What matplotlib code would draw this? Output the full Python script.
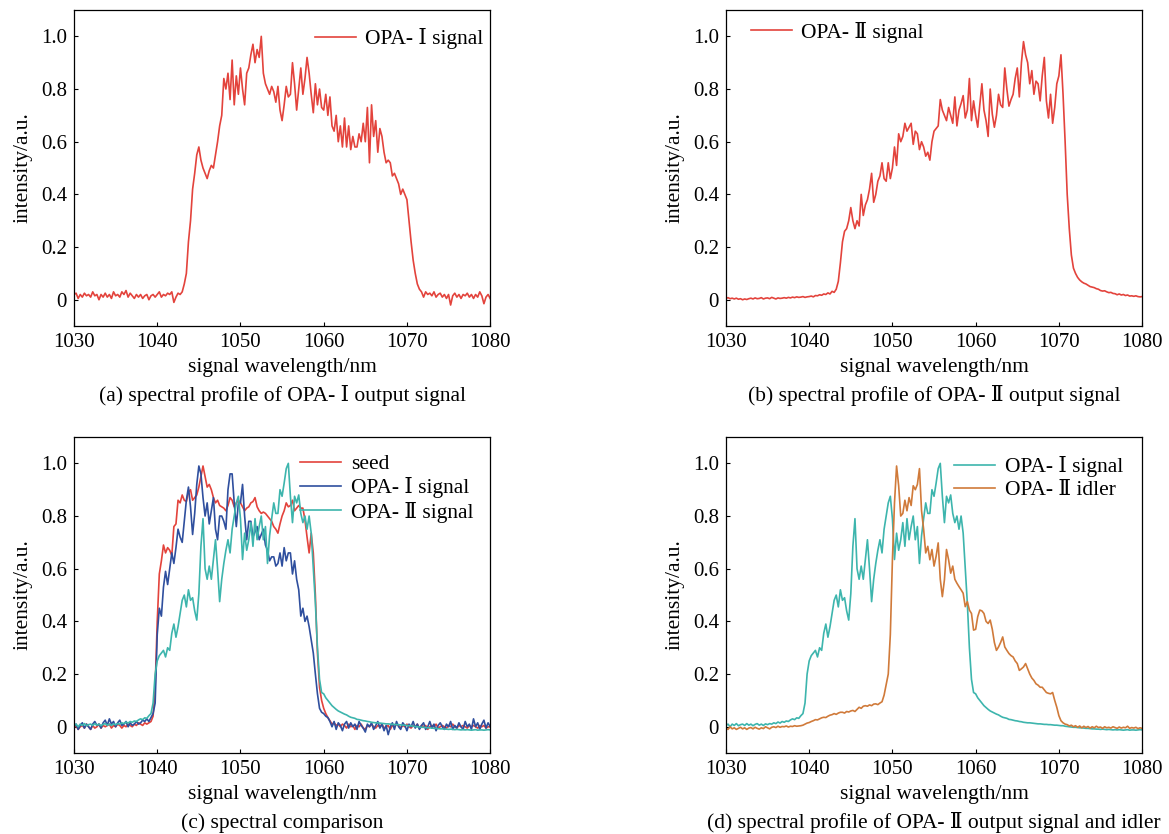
import numpy as np
import matplotlib
matplotlib.use("Agg")
import matplotlib.pyplot as plt
from matplotlib.ticker import FuncFormatter

plt.rcParams['font.family'] = ['Liberation Serif', 'DejaVu Serif', 'Noto Sans CJK SC']
plt.rcParams['font.size'] = 15.5

# wavelength grid, 0.25 nm
wl = np.arange(1030, 1080.001, 0.25)

# (a) OPA-I output signal
opa1_a = [
    0.02, 0.025, 0.005, 0.02, 0.01, 0.025, 0.015, 0.02, 0.01, 0.03, 0.015, 0.02,
    0.0, 0.02, 0.01, 0.025, 0.01, 0.02, 0.005, 0.03, 0.015, 0.02, 0.01, 0.03,
    0.02, 0.035, 0.01, 0.025, 0.015, 0.005, 0.02, 0.01, 0.02, 0.005, 0.015, 0.02,
    0.0, 0.015, 0.02, 0.01, 0.02, 0.03, 0.01, 0.02, 0.015, 0.025, 0.02, 0.03,
    -0.01, 0.01, 0.025, 0.02,
    0.03, 0.06, 0.1, 0.22, 0.3, 0.42, 0.48, 0.55, 0.58, 0.53, 0.5, 0.48,
    0.46, 0.49, 0.51, 0.5, 0.55, 0.6, 0.66, 0.7, 0.84, 0.8, 0.86, 0.76,
    0.91, 0.74, 0.85, 0.78, 0.88, 0.8, 0.74, 0.86, 0.88, 0.93, 0.97, 0.9,
    0.95, 0.92, 1.0, 0.86, 0.82, 0.8, 0.78, 0.81, 0.79, 0.75, 0.81, 0.72,
    0.68, 0.74, 0.81, 0.77, 0.78, 0.9, 0.82, 0.72, 0.8, 0.88, 0.78, 0.84,
    0.92, 0.86, 0.78, 0.71, 0.82, 0.74, 0.8, 0.73, 0.72, 0.78, 0.7, 0.77,
    0.66, 0.64, 0.7, 0.6, 0.66, 0.58, 0.69, 0.58, 0.66, 0.57, 0.62, 0.58,
    0.58, 0.63, 0.6, 0.67, 0.6, 0.73, 0.52, 0.74, 0.62, 0.68, 0.56, 0.65,
    0.62, 0.56, 0.52, 0.53, 0.52, 0.47, 0.48, 0.46, 0.44, 0.4, 0.42, 0.4,
    0.38, 0.3, 0.22, 0.15, 0.1, 0.06, 0.04, 0.03, 0.01, 0.03, 0.02, 0.025,
    0.015, 0.03, 0.01, 0.02, 0.025, 0.01, 0.02, 0.005, 0.02, -0.02, 0.015, 0.025,
    0.01, 0.02, 0.005, 0.02, 0.015, 0.025, 0.01, 0.02, 0.005, 0.02, 0.01, 0.03,
    0.015, -0.015, 0.01, 0.02, 0.005,
]

# (b) OPA-II output signal
opa2_b = [
    0.005, 0.008, 0.004, 0.006, 0.003, 0.006, 0.002, 0.004, 0.0, 0.003, 0.001, 0.004,
    0.006, 0.003, 0.007, 0.004, 0.005, 0.008, 0.003, 0.006, 0.007, 0.004, 0.009, 0.006,
    0.003, 0.007, 0.005, 0.006, 0.008, 0.006, 0.009, 0.007, 0.01, 0.008, 0.011, 0.009,
    0.01, 0.012, 0.009, 0.011,
    0.012, 0.014, 0.011, 0.016, 0.015, 0.019, 0.017, 0.022, 0.02, 0.026, 0.022, 0.032,
    0.028, 0.04, 0.07, 0.14, 0.22, 0.26, 0.27, 0.3, 0.35, 0.3, 0.27, 0.3,
    0.28, 0.4, 0.32, 0.36, 0.38, 0.42, 0.48, 0.37, 0.4, 0.45, 0.47, 0.52,
    0.46, 0.45, 0.52, 0.46, 0.5, 0.58, 0.51, 0.63, 0.6, 0.62, 0.67, 0.64,
    0.655, 0.67, 0.59, 0.64, 0.63, 0.57, 0.6, 0.58, 0.545, 0.56, 0.53, 0.6,
    0.64, 0.65, 0.66, 0.76, 0.72, 0.7, 0.68, 0.73, 0.7, 0.67, 0.77, 0.66,
    0.72, 0.745, 0.775, 0.69, 0.72, 0.84, 0.68, 0.755, 0.7, 0.655, 0.74, 0.82,
    0.72, 0.68, 0.62, 0.8, 0.705, 0.655, 0.7, 0.78, 0.74, 0.73, 0.88, 0.8,
    0.735, 0.76, 0.78, 0.84, 0.88, 0.77, 0.9, 0.98, 0.93, 0.9, 0.82, 0.87,
    0.78, 0.83, 0.82, 0.755, 0.85, 0.92, 0.755, 0.69, 0.78, 0.67, 0.73, 0.82,
    0.85, 0.93, 0.78, 0.6, 0.4, 0.27, 0.17, 0.12, 0.1, 0.085, 0.075, 0.068,
    0.063, 0.06, 0.055, 0.05, 0.048, 0.046, 0.042, 0.04, 0.035, 0.033, 0.034, 0.03,
    0.027, 0.028, 0.024, 0.023, 0.019, 0.022, 0.018, 0.02, 0.016, 0.018, 0.014, 0.015,
    0.013, 0.015, 0.012, 0.011, 0.012,
]

# (c) seed
seed_c = [
    -0.005, 0.005, -0.01, 0.0, 0.005, -0.005, 0.01, 0.0, -0.01, 0.005, -0.005, 0.0,
    0.01, -0.005, 0.005, 0.0, 0.005, 0.01, -0.005, 0.005, 0.0, 0.01, 0.005, -0.005,
    0.005, 0.0, 0.01, 0.005, 0.0, 0.01, 0.005, 0.015, 0.01, 0.005, 0.015, 0.01,
    0.015, 0.02, 0.04, 0.15, 0.4, 0.58, 0.63, 0.69, 0.66, 0.68, 0.67, 0.65,
    0.76, 0.77, 0.86, 0.85, 0.88, 0.86, 0.855, 0.89, 0.9, 0.86, 0.87, 0.88,
    0.91, 0.95, 0.99, 0.95, 0.91, 0.92, 0.9, 0.87, 0.85, 0.86, 0.84, 0.835,
    0.83, 0.82, 0.84, 0.87, 0.86, 0.835, 0.85, 0.86, 0.85, 0.835, 0.82, 0.83,
    0.835, 0.85, 0.855, 0.87, 0.835, 0.82, 0.81, 0.815, 0.81, 0.8, 0.79, 0.78,
    0.76, 0.75, 0.735, 0.77, 0.8, 0.82, 0.85, 0.835, 0.84, 0.86, 0.82, 0.83,
    0.84, 0.83, 0.83, 0.785, 0.72, 0.66, 0.735, 0.66, 0.5, 0.28, 0.15, 0.1,
    0.07, 0.05, 0.035, 0.023, 0.01, 0.015, 0.005, 0.01, 0.0, 0.01, 0.005, -0.005,
    0.01, 0.0, 0.005, -0.01, 0.005, 0.0, 0.01, -0.005, -0.01, 0.005, 0.0, 0.01,
    0.0, -0.005, 0.005, 0.0, 0.01, -0.005, 0.0, 0.005, -0.01, 0.005, 0.0, 0.01,
    0.005, -0.005, 0.005, 0.0, 0.01, 0.0, -0.005, 0.005, 0.0, 0.01, -0.005, 0.005,
    0.0, 0.005, -0.01, 0.0, 0.005, 0.0, 0.01, -0.005, 0.0, 0.005, 0.0, -0.005,
    0.005, 0.0, 0.01, 0.0, -0.005, 0.005, 0.0, 0.005, 0.0, -0.005, 0.005, 0.0,
    0.005, 0.0, -0.005, 0.005, 0.0, 0.005, -0.005, 0.0, 0.0,
]

# (c) OPA-I signal
opa1_c = [
    0.0, 0.01, -0.01, 0.005, 0.015, -0.005, 0.01, 0.0, -0.01, 0.01, 0.02, 0.005,
    0.01, -0.005, 0.015, 0.025, 0.005, 0.03, 0.01, 0.02, 0.0, 0.015, 0.025, 0.005,
    0.01, 0.02, 0.0, 0.015, 0.005, 0.01, 0.02, 0.01, 0.015, 0.025, 0.02, 0.03,
    0.02, 0.035, 0.05, 0.09, 0.35, 0.45, 0.42, 0.53, 0.59, 0.54, 0.6, 0.66,
    0.62, 0.68, 0.75, 0.72, 0.7, 0.78, 0.86, 0.91, 0.835, 0.73, 0.81, 0.92,
    0.99, 0.96, 0.87, 0.8, 0.85, 0.77, 0.82, 0.87, 0.75, 0.71, 0.8, 0.8,
    0.78, 0.75, 0.9, 0.96, 0.96, 0.85, 0.76, 0.85, 0.85, 0.92, 0.8, 0.71,
    0.78, 0.78, 0.72, 0.74, 0.76, 0.71, 0.73, 0.75, 0.69, 0.67, 0.63, 0.645,
    0.645, 0.61, 0.62, 0.66, 0.61, 0.68, 0.63, 0.66, 0.66, 0.58, 0.63, 0.56,
    0.52, 0.42, 0.45, 0.4, 0.42, 0.38, 0.33, 0.28, 0.2, 0.125, 0.07, 0.055,
    0.05, 0.04, 0.035, 0.02, 0.0, 0.02, -0.01, 0.015, 0.005, -0.015, 0.01, 0.02,
    -0.005, 0.015, 0.0, 0.01, -0.01, 0.02, 0.005, -0.005, -0.02, 0.01, 0.0, 0.015,
    -0.01, 0.005, 0.02, -0.005, 0.01, -0.015, 0.005, -0.03, 0.0, 0.015, -0.01, 0.02,
    0.0, -0.01, 0.015, 0.005, -0.015, 0.01, 0.0, 0.02, -0.005, 0.01, -0.01, 0.005,
    0.015, -0.01, 0.0, 0.02, -0.005, 0.01, -0.015, 0.005, 0.015, 0.0, -0.01, 0.01,
    0.0, 0.02, -0.01, 0.005, -0.005, 0.015, 0.0, -0.01, 0.02, 0.0, 0.01, -0.01,
    0.03, 0.0, 0.015, -0.01, 0.01, 0.025, -0.005, 0.015, 0.0,
]

# (c) OPA-II signal / (d) signal
opa2_sig = [
    0.005, 0.01, 0.0, 0.01, 0.005, 0.012, 0.004, 0.008, 0.01, 0.005, 0.012, 0.006,
    0.01, 0.004, 0.009, 0.012, 0.006, 0.01, 0.005, 0.011, 0.008, 0.012, 0.01, 0.015,
    0.012, 0.018, 0.014, 0.02, 0.017, 0.022, 0.02, 0.026, 0.03, 0.027, 0.034, 0.032,
    0.042, 0.05, 0.09, 0.2, 0.25, 0.27, 0.28, 0.29, 0.265, 0.3, 0.29, 0.355,
    0.39, 0.34, 0.38, 0.43, 0.48, 0.5, 0.455, 0.52, 0.48, 0.49, 0.44, 0.405,
    0.505, 0.685, 0.79, 0.6, 0.56, 0.61, 0.56, 0.635, 0.71, 0.6, 0.475, 0.56,
    0.62, 0.67, 0.71, 0.66, 0.75, 0.8, 0.85, 0.875, 0.79, 0.635, 0.735, 0.67,
    0.71, 0.775, 0.685, 0.79, 0.71, 0.76, 0.8, 0.71, 0.76, 0.62, 0.725, 0.79,
    0.85, 0.81, 0.81, 0.9, 0.875, 0.925, 0.98, 1.0, 0.875, 0.775, 0.875, 0.85,
    0.88, 0.81, 0.775, 0.8, 0.75, 0.8, 0.735, 0.6, 0.47, 0.3, 0.18, 0.13,
    0.125, 0.11, 0.1, 0.09, 0.08, 0.073, 0.066, 0.06, 0.056, 0.052, 0.048, 0.045,
    0.04, 0.036, 0.034, 0.032, 0.028, 0.027, 0.025, 0.023, 0.022, 0.02, 0.019, 0.017,
    0.016, 0.015, 0.015, 0.014, 0.013, 0.012, 0.011, 0.011, 0.01, 0.009, 0.009, 0.008,
    0.008, 0.007, 0.006, 0.006, 0.005, 0.004, 0.004, 0.002, 0.001, 0.0, -0.001, -0.002,
    -0.002, -0.003, -0.004, -0.004, -0.005, -0.006, -0.006, -0.007, -0.008, -0.008, -0.009, -0.009,
    -0.01, -0.009, -0.01, -0.011, -0.01, -0.011, -0.012, -0.011, -0.012, -0.011, -0.012, -0.013,
    -0.012, -0.011, -0.013, -0.012, -0.012, -0.013, -0.012, -0.011, -0.012,
]

# (d) OPA-II idler
opa2_idl = [
    -0.005, -0.01, 0.0, -0.008, -0.004, -0.01, -0.006, -0.002, -0.008, -0.004, -0.01, -0.005,
    -0.003, -0.008, -0.002, -0.006, -0.009, -0.004, -0.007, 0.0, -0.004, -0.008, -0.002, 0.0,
    -0.003, 0.002, -0.002, 0.001, 0.0, 0.003, -0.001, 0.002, 0.001, 0.004, 0.002, 0.003,
    0.004, 0.006, 0.01, 0.014, 0.016, 0.02, 0.023, 0.027, 0.026, 0.03, 0.034, 0.036,
    0.035, 0.04, 0.044, 0.046, 0.05, 0.047, 0.052, 0.055, 0.055, 0.052, 0.058, 0.056,
    0.06, 0.062, 0.058, 0.066, 0.074, 0.07, 0.078, 0.08, 0.078, 0.083, 0.08, 0.086,
    0.087, 0.084, 0.09, 0.095, 0.12, 0.16, 0.2, 0.35, 0.634, 0.85, 0.99, 0.915,
    0.8, 0.81, 0.86, 0.82, 0.87, 0.84, 0.915, 0.9, 0.92, 0.98, 0.82, 0.75,
    0.66, 0.685, 0.634, 0.673, 0.61, 0.647, 0.698, 0.56, 0.494, 0.558, 0.673, 0.634,
    0.583, 0.61, 0.56, 0.545, 0.532, 0.52, 0.507, 0.456, 0.475, 0.443, 0.43, 0.367,
    0.37, 0.418, 0.443, 0.44, 0.43, 0.4, 0.392, 0.405, 0.37, 0.32, 0.29, 0.303,
    0.32, 0.341, 0.303, 0.29, 0.278, 0.27, 0.265, 0.25, 0.24, 0.214, 0.22, 0.227,
    0.24, 0.22, 0.2, 0.185, 0.176, 0.163, 0.158, 0.15, 0.15, 0.14, 0.13, 0.127,
    0.125, 0.13, 0.1, 0.074, 0.042, 0.023, 0.015, 0.01, 0.008, 0.003, 0.006, 0.0,
    0.004, -0.002, 0.003, -0.004, 0.002, -0.003, 0.001, -0.005, 0.0, -0.004, 0.002, -0.003,
    -0.001, -0.006, 0.0, -0.004, -0.002, -0.005, 0.0, -0.003, -0.006, -0.001, -0.005, -0.002,
    -0.004, 0.002, -0.006, -0.003, -0.005, -0.002, -0.007, -0.004, -0.006,
]

red = '#e3433c'
blue = '#2f4f9e'
cyan = '#3db5ad'
orange = '#d07a3a'

captions = [
    '(a) spectral profile of OPA- \u2160 output signal',
    '(b) spectral profile of OPA- \u2161 output signal',
    '(c) spectral comparison',
    '(d) spectral profile of OPA- \u2161 output signal and idler',
]

fig = plt.figure(figsize=(11.69, 8.34), dpi=100)
boxes = [
    [0.0633, 0.609, 0.356, 0.379],
    [0.6210, 0.609, 0.356, 0.379],
    [0.0633, 0.097, 0.356, 0.379],
    [0.6210, 0.097, 0.356, 0.379],
]
axes = [fig.add_axes(b) for b in boxes]


def yfmt(v, pos):
    if abs(v) < 1e-9:
        return '0'
    return '%.1f' % v


for ax, cap in zip(axes, captions):
    ax.set_xlim(1030, 1080)
    ax.set_ylim(-0.1, 1.1)
    ax.set_xticks([1030, 1040, 1050, 1060, 1070, 1080])
    ax.set_yticks([0, 0.2, 0.4, 0.6, 0.8, 1.0])
    ax.yaxis.set_major_formatter(FuncFormatter(yfmt))
    ax.tick_params(direction='in', length=3, width=0.8, labelsize=15, pad=5)
    for s in ax.spines.values():
        s.set_linewidth(0.9)
    ax.set_xlabel('signal wavelength/nm', fontsize=15.5, labelpad=4)
    ax.set_ylabel('intensity/a.u.', fontsize=15.5, labelpad=6)
    ax.text(0.5, -0.22, cap, transform=ax.transAxes, ha='center', va='center', fontsize=15.5)

lw = 1.2
leg_kw = dict(frameon=False, fontsize=15.5, handlelength=1.9, borderaxespad=0,
              handletextpad=0.45, labelspacing=0.15)

ax = axes[0]
ax.plot(wl, opa1_a, color=red, lw=lw, label='OPA- \u2160 signal')
ax.legend(loc='upper right', bbox_to_anchor=(1.005, 0.97), **leg_kw)

ax = axes[1]
ax.plot(wl, opa2_b, color=red, lw=lw, label='OPA- \u2161 signal')
ax.legend(loc='upper left', bbox_to_anchor=(0.039, 0.99), **leg_kw)

ax = axes[2]
ax.plot(wl, seed_c, color=red, lw=lw, label='seed')
ax.plot(wl, opa1_c, color=blue, lw=lw, label='OPA- \u2160 signal')
ax.plot(wl, opa2_sig, color=cyan, lw=lw, label='OPA- \u2161 signal')
ax.legend(loc='upper right', bbox_to_anchor=(0.98, 0.973), **leg_kw)

ax = axes[3]
ax.plot(wl, opa2_sig, color=cyan, lw=lw, label='OPA- \u2160 signal')
ax.plot(wl, opa2_idl, color=orange, lw=lw, label='OPA- \u2161 idler')
ax.legend(loc='upper right', bbox_to_anchor=(0.975, 0.967), **leg_kw)

fig.savefig('out.png', dpi=100)
